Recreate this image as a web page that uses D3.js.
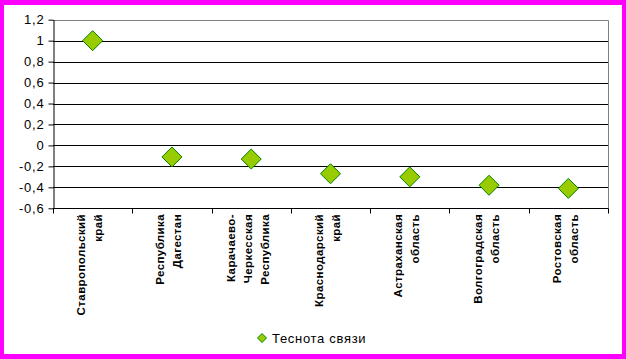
<!DOCTYPE html>
<html><head><meta charset="utf-8">
<script src="https://cdn.jsdelivr.net/npm/d3@7"></script>
<style>html,body{margin:0;padding:0;background:#ff00ff;}svg{display:block;}</style>
</head><body>
<svg id="c" width="626" height="359"></svg>
<script>
const categories = [
  ["Ставропольский","край"],
  ["Республика","Дагестан"],
  ["Карачаево-","Черкесская","Республика"],
  ["Краснодарский","край"],
  ["Астраханская","область"],
  ["Волгоградская","область"],
  ["Ростовская","область"]
];
const values = [1.0, -0.11, -0.13, -0.27, -0.30, -0.38, -0.41];
const yTicks = [1.2, 1, 0.8, 0.6, 0.4, 0.2, 0, -0.2, -0.4, -0.6];
const seriesName = "Теснота связи";

const svg = d3.select("#c");
svg.append("rect").attr("x",4).attr("y",5).attr("width",618).attr("height",349).attr("fill","#ffffff");

const L=53, R=608, T=19.7, B=208.3;
const x = d3.scaleBand().domain(d3.range(categories.length)).range([L,R]);
const y = d3.scaleLinear().domain([-0.6,1.2]).range([B,T]);
const fmt = v => String(v).replace(".", ",");

// gridlines
svg.append("g").selectAll("line").data(yTicks.filter(t=>t!==1.2)).join("line")
  .attr("x1",L).attr("x2",R).attr("y1",d=>Math.round(y(d))+0.5).attr("y2",d=>Math.round(y(d))+0.5)
  .attr("stroke","#000").attr("stroke-width",1);
// plot border (top & right) gray
svg.append("path").attr("d",`M${L},${Math.round(T)+0.5}H${R+0.5}V${Math.round(B)+0.5}`)
  .attr("fill","none").attr("stroke","#808080");

// y axis
const ya = svg.append("g").attr("transform",`translate(${L+0.5},0)`)
  .call(d3.axisLeft(y).tickValues(yTicks).tickFormat(fmt).tickSize(5).tickSizeOuter(0));
ya.select(".domain").attr("stroke","#000");
ya.selectAll(".tick line").attr("stroke","#000");
ya.selectAll(".tick text").attr("font-family","Liberation Sans, Arial").attr("font-size","13px")
  .attr("letter-spacing","0.8px").attr("fill","#000").attr("x",-9);

// x axis
const xa = svg.append("g").attr("transform",`translate(0,${Math.round(B)+0.5})`);
xa.append("line").attr("x1",L).attr("x2",R+0.5).attr("stroke","#000");
const edges = d3.range(categories.length+1).map(i => i<categories.length ? x(i) : R);
xa.selectAll("line.t").data(edges).join("line").attr("class","t")
  .attr("x1",d=>Math.round(d)+0.5).attr("x2",d=>Math.round(d)+0.5).attr("y1",0).attr("y2",5).attr("stroke","#000");

// category labels
const lh = 17;
categories.forEach((lines,i)=>{
  const cx = x(i)+x.bandwidth()/2;
  const n = lines.length;
  lines.forEach((ln,j)=>{
    const px = cx + (j-(n-1)/2)*lh + 4;
    svg.append("text").attr("transform",`translate(${px-3},214) rotate(-90)`)
      .attr("text-anchor","end").attr("font-family","Liberation Sans, Arial").attr("font-weight","bold")
      .attr("font-size","11.5px").attr("letter-spacing","0.4px").attr("fill","#000").text(ln);
  });
});

// markers
const dpath = s => `M0,${-s}L${s},0L0,${s}L${-s},0Z`;
svg.append("g").selectAll("path").data(values).join("path")
  .attr("transform",(d,i)=>`translate(${x(i)+x.bandwidth()/2},${y(d)})`)
  .attr("d",dpath(10)).attr("fill","#99cc00").attr("stroke","#008000").attr("stroke-width",1);

// legend
svg.append("path").attr("transform","translate(262,338)").attr("d",dpath(4.5))
  .attr("fill","#99cc00").attr("stroke","#008000");
svg.append("text").attr("x",272).attr("y",343).attr("font-family","Liberation Sans, Arial")
  .attr("font-size","13px").attr("letter-spacing","0.7px").attr("fill","#000").text(seriesName);
</script>
</body></html>
